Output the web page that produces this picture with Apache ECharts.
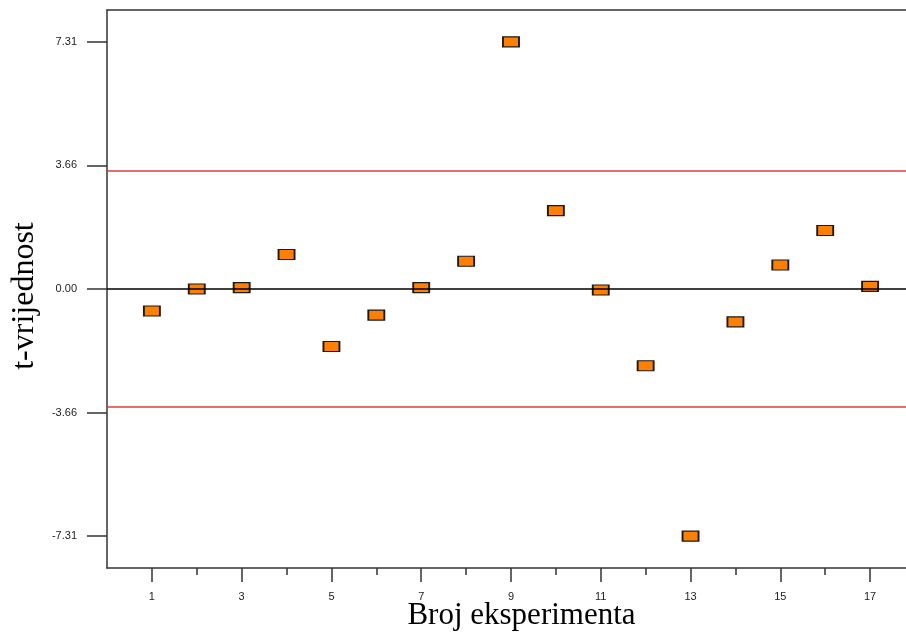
<!DOCTYPE html>
<html>
<head>
<meta charset="utf-8">
<script src="https://cdn.jsdelivr.net/npm/echarts@6/dist/echarts.min.js"></script>
<style>html,body{margin:0;padding:0;background:#fff;}#c{width:906px;height:633px;}</style>
</head>
<body>
<div id="c"></div>
<script>
var experiments = [1,2,3,4,5,6,7,8,9,10,11,12,13,14,15,16,17];
var tValues = [-0.65,0.0,0.04,1.02,-1.70,-0.77,0.04,0.82,7.31,2.32,-0.03,-2.27,-7.31,-0.97,0.71,1.73,0.08];
var yTickValues = [-7.31,-3.655,0,3.655,7.31];
var yTickLabels = ['-7.31','-3.66','0.00','3.66','7.31'];
var xMajorTicks = [1,3,5,7,9,11,13,15,17];
var xMinorTicks = [2,4,6,8,10,12,14,16];
var limitValue = 3.49;
var zeroValue = 0;

var chart = echarts.init(document.getElementById('c'), null, {renderer:'canvas'});
var axisColor = '#333';
var option = {
  animation:false,
  backgroundColor:'#fff',
  grid:{left:107, top:10, right:0, bottom:65, outerBoundsMode:'none', containLabel:false, show:false},
  xAxis:[{
    type:'value', min:0, max:17.8, position:'bottom',
    name:'Broj eksperimenta', nameLocation:'middle', nameGap:32, nameMoveOverlap:false,
    nameTextStyle:{fontFamily:'Liberation Serif', fontSize:31, color:'#000', padding:[0,0,0,30]},
    axisLine:{show:true, onZero:false, lineStyle:{color:axisColor, width:1.5}},
    axisTick:{show:true, customValues:xMajorTicks, length:14, lineStyle:{color:axisColor, width:1.5}},
    axisLabel:{customValues:xMajorTicks, margin:23, fontFamily:'Liberation Sans', fontSize:11, color:'#222'},
    splitLine:{show:false}
  },{
    type:'value', min:0, max:17.8, position:'bottom', gridIndex:0,
    axisLine:{show:false, onZero:false},
    axisTick:{show:true, customValues:xMinorTicks, length:7, lineStyle:{color:axisColor, width:1.5}},
    axisLabel:{show:false},
    splitLine:{show:false}
  },{
    type:'value', min:0, max:17.8, position:'top', gridIndex:0,
    axisLine:{show:true, onZero:false, lineStyle:{color:axisColor, width:1.5}},
    axisTick:{show:false},
    axisLabel:{show:false},
    splitLine:{show:false}
  }],
  yAxis:{
    type:'value', min:-8.25, max:8.25,
    name:'t-vrijednost', nameLocation:'middle', nameGap:66, nameRotate:90, nameMoveOverlap:false,
    nameTextStyle:{fontFamily:'Liberation Serif', fontSize:32, color:'#000', padding:[0,14,0,0]},
    axisLine:{show:true, onZero:false, lineStyle:{color:axisColor, width:1.5}},
    axisTick:{show:true, customValues:yTickValues, length:20, lineStyle:{color:axisColor, width:1.5}},
    axisLabel:{customValues:yTickValues, margin:30, fontFamily:'Liberation Sans', fontSize:11, color:'#222',
      formatter:function(v){ var i = yTickValues.indexOf(v); return i>=0 ? yTickLabels[i] : ''; }},
    splitLine:{show:false}
  },
  series:[{
    type:'scatter',
    symbol:'rect',
    symbolSize:[16,10],
    itemStyle:{color:'#FF8000', borderColor:'#1a1a1a', borderWidth:1.5, opacity:1},
    data: experiments.map(function(x,i){ return [x, tValues[i]]; }),
    markLine:{
      silent:true, symbol:['none','none'], label:{show:false}, animation:false,
      data:[
        {yAxis:zeroValue, lineStyle:{color:'#000', width:1.5, type:'solid'}},
        {yAxis:limitValue, lineStyle:{color:'#e03c3c', width:1.5, type:'solid'}},
        {yAxis:-limitValue, lineStyle:{color:'#e03c3c', width:1.5, type:'solid'}}
      ]
    },
    z:3
  }]
};
chart.setOption(option);
</script>
</body>
</html>
